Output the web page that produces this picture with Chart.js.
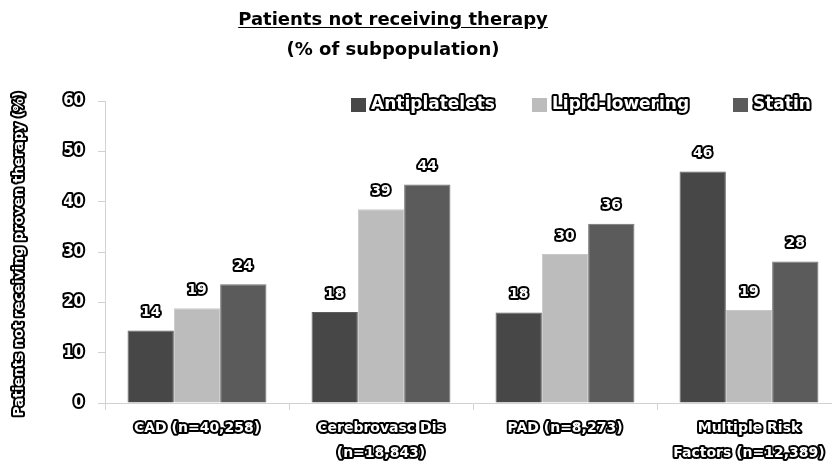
<!DOCTYPE html>
<html>
<head>
<meta charset="utf-8">
<script src="https://cdn.jsdelivr.net/npm/chart.js@4/dist/chart.umd.min.js"></script>
<style>
  html, body { margin: 0; padding: 0; background: #fff; overflow: hidden; }
  #wrap { position: relative; width: 842px; height: 465px; }
  .ttl { position: absolute; left: 0; width: 786px; text-align: center;
         font-family: 'DejaVu Sans', sans-serif; font-weight: bold; font-size: 18px; color: #000; }
  #t1 { top: 8px; text-decoration: underline; text-underline-offset: 2px; }
  #t2 { top: 38px; }
</style>
</head>
<body>
<div id="wrap">
  <div class="ttl" id="t1">Patients not receiving therapy</div>
  <div class="ttl" id="t2">(% of subpopulation)</div>
  <canvas id="chart" width="842" height="465"></canvas>
</div>
<script>
const categories = [
  'CAD (n=40,258)',
  ['Cerebrovasc Dis', '(n=18,843)'],
  'PAD (n=8,273)',
  ['Multiple Risk', 'Factors (n=12,389)']
];
const antiplatelets = [14.4, 18.1, 18.0, 46.0];
const lipidLowering = [18.8, 38.5, 29.6, 18.5];
const statin = [23.6, 43.4, 35.6, 28.1];
// numbers printed above the bars
const antiplateletsLabels = [14, 18, 18, 46];
const lipidLoweringLabels = [19, 39, 30, 19];
const statinLabels = [24, 44, 36, 28];
const yTicks = [0, 10, 20, 30, 40, 50, 60];

const axisGray = '#d2d2d2';
const outlined = { color: '#fff', textStrokeColor: '#000', textStrokeWidth: 4 };
const legendX = [351, 532, 733];

function strokeFillText(ctx, text, x, y) {
  ctx.lineWidth = 4;
  ctx.strokeStyle = '#000';
  ctx.lineJoin = 'round';
  ctx.strokeText(text, x, y);
  ctx.fillStyle = '#fff';
  ctx.fillText(text, x, y);
}

const extras = {
  id: 'extras',
  beforeDraw(chart) {
    // round joins so outlined tick text has no miter spikes
    chart.ctx.lineJoin = 'round';
  },
  afterDatasetsDraw(chart) {
    const ctx = chart.ctx;
    ctx.save();
    ctx.font = 'bold 14px "DejaVu Sans"';
    ctx.textAlign = 'center';
    ctx.textBaseline = 'middle';
    chart.data.datasets.forEach((ds, i) => {
      chart.getDatasetMeta(i).data.forEach((bar, j) => {
        strokeFillText(ctx, String(ds.printed[j]), bar.x, bar.y - 18);
      });
    });
    ctx.restore();
  },
  afterDraw(chart) {
    const ctx = chart.ctx;
    const area = chart.chartArea;
    ctx.save();
    // y axis title
    ctx.translate(19, (area.top + area.bottom) / 2 + 2);
    ctx.rotate(-Math.PI / 2);
    ctx.font = 'bold 13.7px "DejaVu Sans"';
    ctx.textAlign = 'center';
    ctx.textBaseline = 'middle';
    strokeFillText(ctx, 'Patients not receiving proven therapy (%)', 0, 0);
    ctx.restore();

    // legend
    ctx.save();
    ctx.font = 'bold 17px "DejaVu Sans"';
    ctx.textBaseline = 'middle';
    ctx.textAlign = 'left';
    const y = 105;
    chart.data.datasets.forEach((ds, i) => {
      ctx.fillStyle = ds.backgroundColor;
      ctx.fillRect(legendX[i], y - 7, 15, 14);
      strokeFillText(ctx, ds.label, legendX[i] + 20, y);
    });
    ctx.restore();
  }
};

new Chart(document.getElementById('chart'), {
  type: 'bar',
  data: {
    labels: categories,
    datasets: [
      { label: 'Antiplatelets', data: antiplatelets, printed: antiplateletsLabels,
        backgroundColor: '#474747', borderColor: '#5e5e5e', borderWidth: 1 },
      { label: 'Lipid-lowering', data: lipidLowering, printed: lipidLoweringLabels,
        backgroundColor: '#bcbcbc', borderColor: '#c8c8c8', borderWidth: 1 },
      { label: 'Statin', data: statin, printed: statinLabels,
        backgroundColor: '#5b5b5b', borderColor: '#707070', borderWidth: 1 }
    ]
  },
  options: {
    responsive: false,
    animation: false,
    layout: { padding: { top: 101, right: 1, left: 0, bottom: 0 } },
    datasets: { bar: { categoryPercentage: 0.755, barPercentage: 1 } },
    plugins: { legend: { display: false }, tooltip: { enabled: false } },
    scales: {
      x: {
        grid: { drawOnChartArea: false, tickLength: 7, color: axisGray },
        border: { color: axisGray },
        ticks: {
          ...outlined,
          font: { family: 'DejaVu Sans', weight: 'bold', size: 14, lineHeight: 1.8 },
          padding: 6, maxRotation: 0, autoSkip: false
        },
        afterFit(scale) { scale.height = 62; }
      },
      y: {
        min: yTicks[0],
        max: yTicks[yTicks.length - 1],
        afterBuildTicks(scale) { scale.ticks = yTicks.map(v => ({ value: v })); },
        grid: { drawOnChartArea: false, tickLength: 7, color: axisGray },
        border: { color: axisGray },
        ticks: {
          ...outlined,
          font: { family: 'DejaVu Sans', weight: 'bold', size: 15 },
          padding: 14
        },
        afterFit(scale) { scale.width = 105; }
      }
    }
  },
  plugins: [extras]
});
</script>
</body>
</html>
